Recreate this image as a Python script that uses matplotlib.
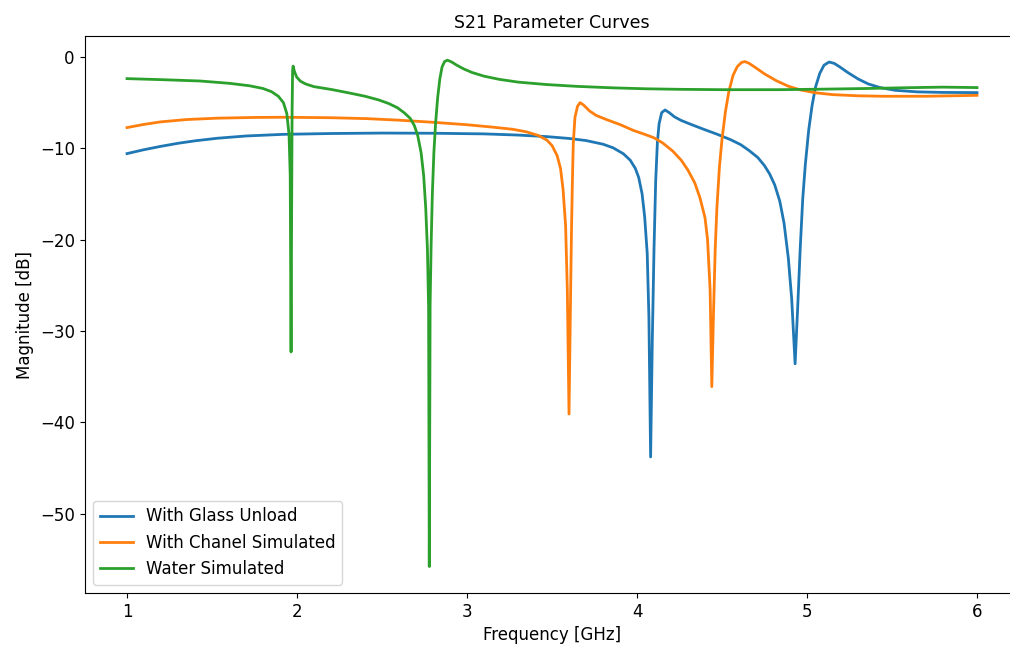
"""
S21 transmission curves for the three sensor configurations
"""

import matplotlib
matplotlib.use("Agg")
import matplotlib.pyplot as plt

# ============================================================
# DATA (frequency in GHz, magnitude in dB)
# ============================================================
glass_freq = [1.00, 1.10, 1.20, 1.30, 1.40, 1.53, 1.70, 1.92, 2.20, 2.50,
              2.80, 3.10, 3.30, 3.47, 3.60, 3.70, 3.80, 3.86, 3.92, 3.96,
              3.99, 4.01, 4.03, 4.045, 4.06, 4.07, 4.08, 4.09, 4.10, 4.11,
              4.12, 4.13, 4.145, 4.165, 4.19, 4.22, 4.26, 4.32, 4.39, 4.47,
              4.55, 4.61, 4.66, 4.71, 4.75, 4.78, 4.81, 4.84, 4.865, 4.89,
              4.91, 4.93, 4.945, 4.96, 4.975, 4.99, 5.01, 5.03, 5.05, 5.075,
              5.10, 5.13, 5.16, 5.19, 5.24, 5.30, 5.36, 5.43, 5.52, 5.65,
              5.80, 6.00]
glass_mag = [-10.58, -10.15, -9.78, -9.45, -9.18, -8.9, -8.65, -8.47, -8.38, -8.33,
             -8.35, -8.42, -8.55, -8.72, -8.92, -9.15, -9.55, -9.95, -10.6, -11.3,
             -12.2, -13.2, -15.0, -17.5, -21.5, -28.5, -43.8, -31.0, -21.0, -13.5,
             -9.3, -7.3, -6.1, -5.8, -6.1, -6.55, -6.95, -7.4, -7.9, -8.45,
             -9.05, -9.6, -10.25, -11.0, -11.9, -12.8, -14.0, -15.8, -18.2, -22.0,
             -26.5, -33.6, -27.5, -21.0, -15.5, -11.8, -8.0, -5.3, -3.3, -1.8,
             -0.9, -0.55, -0.7, -1.05, -1.7, -2.4, -2.95, -3.35, -3.65, -3.82,
             -3.88, -3.9]

chanel_freq = [1.00, 1.10, 1.20, 1.35, 1.53, 1.75, 1.92, 2.20, 2.41, 2.60,
               2.80, 3.00, 3.15, 3.27, 3.35, 3.42, 3.47, 3.50, 3.53, 3.55,
               3.565, 3.58, 3.59, 3.60, 3.61, 3.615, 3.62, 3.625, 3.635, 3.65,
               3.665, 3.685, 3.72, 3.76, 3.82, 3.90, 3.98, 4.05, 4.10, 4.15,
               4.21, 4.26, 4.30, 4.34, 4.37, 4.40, 4.415, 4.43, 4.44, 4.45,
               4.46, 4.47, 4.485, 4.50, 4.52, 4.54, 4.565, 4.59, 4.615, 4.635,
               4.66, 4.70, 4.75, 4.82, 4.89, 4.96, 5.05, 5.15, 5.30, 5.45,
               5.70, 6.00]
chanel_mag = [-7.73, -7.38, -7.1, -6.85, -6.7, -6.62, -6.6, -6.65, -6.75, -6.92,
              -7.15, -7.42, -7.68, -7.92, -8.2, -8.6, -9.1, -9.7, -10.8, -12.2,
              -14.5, -18.5, -25.5, -39.1, -25.0, -18.5, -13.5, -9.5, -6.6, -5.4,
              -5.0, -5.25, -5.9, -6.4, -6.85, -7.4, -8.05, -8.5, -8.85, -9.4,
              -10.3, -11.3, -12.4, -13.8, -15.4, -17.6, -20.0, -25.5, -36.1, -28.0,
              -21.0, -16.5, -12.0, -9.0, -6.0, -3.8, -2.0, -1.05, -0.6, -0.5,
              -0.7, -1.2, -1.85, -2.6, -3.2, -3.6, -3.92, -4.12, -4.25, -4.3,
              -4.3, -4.2]

water_freq = [1.00, 1.20, 1.43, 1.60, 1.72, 1.80, 1.85, 1.89, 1.92, 1.94,
              1.953, 1.96, 1.965, 1.968, 1.971, 1.974, 1.977, 1.985, 1.998, 2.02,
              2.05, 2.10, 2.20, 2.31, 2.40, 2.48, 2.54, 2.59, 2.63, 2.665,
              2.69, 2.71, 2.73, 2.745, 2.757, 2.767, 2.774, 2.778, 2.783, 2.789,
              2.796, 2.805, 2.815, 2.827, 2.84, 2.853, 2.868, 2.885, 2.91, 2.94,
              2.98, 3.03, 3.10, 3.19, 3.30, 3.47, 3.65, 3.86, 4.05, 4.25,
              4.50, 4.84, 5.10, 5.35, 5.60, 5.80, 6.00]
water_mag = [-2.37, -2.48, -2.63, -2.88, -3.15, -3.45, -3.8, -4.3, -5.0, -6.2,
             -8.5, -13.0, -32.3, -18.0, -6.0, -1.5, -1.0, -1.6, -2.2, -2.65,
             -2.95, -3.25, -3.55, -3.95, -4.3, -4.7, -5.1, -5.55, -6.1, -6.7,
             -7.5, -8.6, -10.5, -13.0, -16.5, -21.0, -27.4, -55.8, -27.0, -20.5,
             -15.0, -10.5, -7.3, -4.5, -2.4, -1.1, -0.5, -0.35, -0.55, -0.9,
             -1.3, -1.7, -2.1, -2.45, -2.75, -3.02, -3.22, -3.38, -3.48, -3.54,
             -3.58, -3.58, -3.52, -3.45, -3.36, -3.3, -3.35]

# ============================================================
# PLOT
# ============================================================
fig = plt.figure(figsize=(10.1, 6.45), dpi=100)
ax = fig.add_axes([0.0837, 0.0806, 0.9257, 0.8636])

ax.plot(glass_freq, glass_mag, linewidth=2, label='With Glass Unload')
ax.plot(chanel_freq, chanel_mag, linewidth=2, label='With Chanel Simulated')
ax.plot(water_freq, water_mag, linewidth=2, label='Water Simulated')

ax.set_xlim(0.75, 6.25)
ax.set_ylim(-58.7, 2.3)
ax.set_xlabel('Frequency [GHz]', fontsize=12)
ax.set_ylabel('Magnitude [dB]', fontsize=12)
ax.set_title('S21 Parameter Curves', fontsize=12.5)
ax.tick_params(labelsize=12)
ax.legend(loc='lower left', fontsize=12)

plt.savefig('out.png', dpi=100)
